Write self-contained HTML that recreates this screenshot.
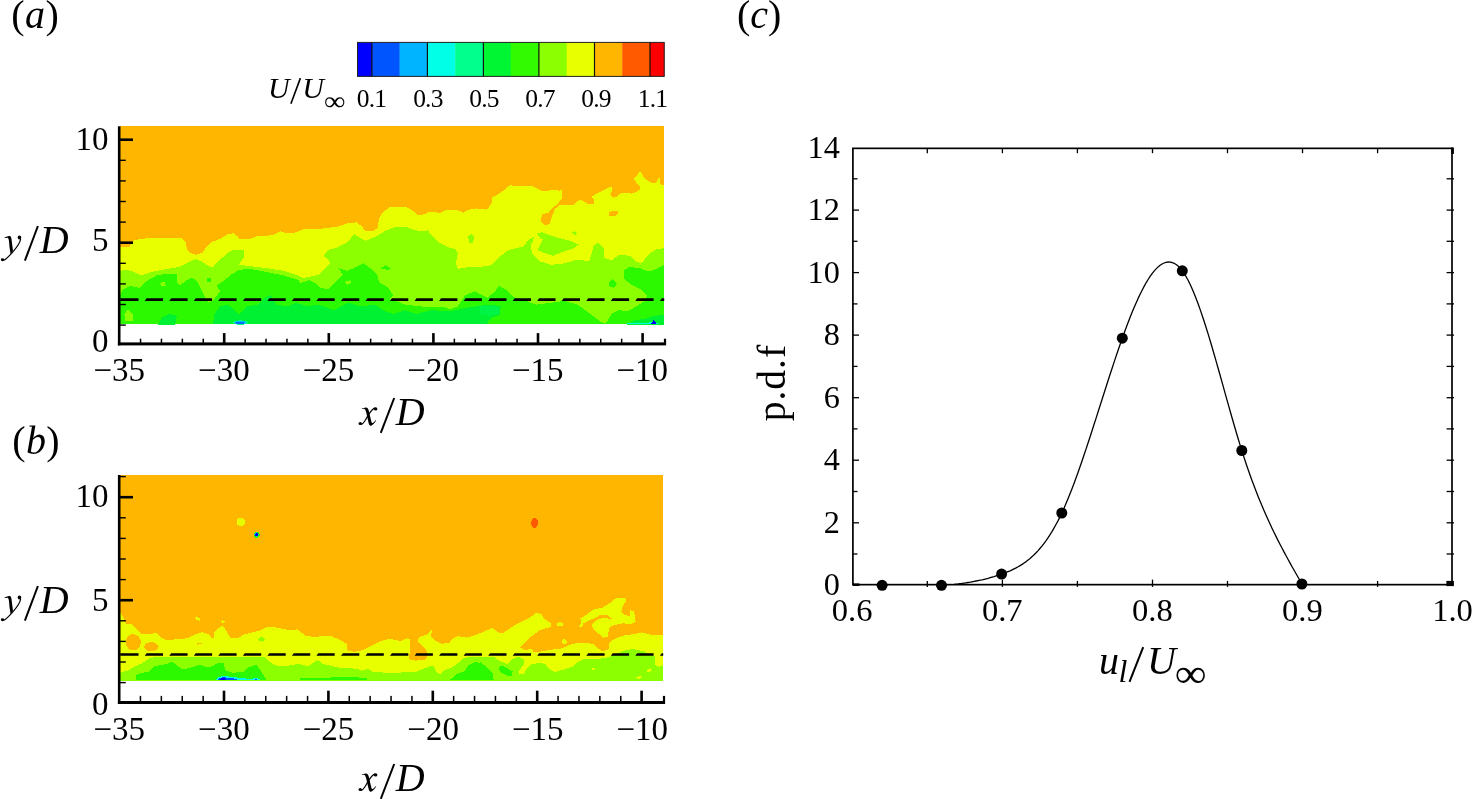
<!DOCTYPE html>
<html>
<head>
<meta charset="utf-8">
<title>Figure</title>
<style>
html,body{margin:0;padding:0;background:#fff;}
body{width:1472px;height:799px;overflow:hidden;font-family:"Liberation Serif",serif;}
svg{display:block;will-change:transform;}
</style>
</head>
<body>
<svg width="1472" height="799" viewBox="0 0 1472 799" font-family="'Liberation Serif', serif" fill="#000">
<rect x="0" y="0" width="1472" height="799" fill="#fff"/>
<g shape-rendering="crispEdges">
<rect x="120.0" y="126.3" width="544.2" height="197.2" fill="#FFB600"/>
<path d="M120.0 247.3 L129.1 247.3 L132.8 240.7 L141.3 238.8 L152.6 237.9 L167.6 237.5 L180.7 237.5 L185.4 241.7 L187.3 250.1 L190.1 252.9 L195.8 254.8 L202.3 252.9 L206.1 247.3 L210.8 242.6 L220.2 238.8 L227.7 234.2 L233.3 233.2 L237.1 236.0 L239.9 239.4 L248.3 239.4 L257.7 236.0 L265.2 236.0 L272.7 235.1 L280.3 231.3 L285.9 233.2 L293.4 233.2 L302.8 229.5 L318.8 229.1 L337.6 226.6 L346.9 223.5 L356.3 222.3 L362.0 226.6 L365.7 231.3 L373.2 231.3 L377.9 227.6 L378.9 219.1 L382.6 212.6 L390.1 206.9 L405.2 206.5 L412.7 210.7 L418.3 215.4 L423.9 214.4 L429.6 211.6 L435.2 211.6 L439.0 213.5 L446.5 209.7 L455.9 209.7 L463.4 212.6 L469.0 209.7 L476.5 208.4 L485.9 209.7 L487.5 208.8 L491.3 204.1 L492.2 197.5 L500.7 192.8 L510.0 185.3 L517.6 186.3 L532.6 186.3 L542.0 191.0 L555.1 190.0 L561.7 191.0 L560.8 199.4 L557.9 204.1 L552.3 207.9 L548.5 212.6 L542.0 214.4 L540.5 221.0 L544.8 225.7 L549.5 223.8 L552.3 215.4 L555.1 208.8 L560.0 204.6 L574.0 204.6 L577.0 201.1 L581.0 199.6 L584.0 201.6 L587.5 203.6 L594.1 203.6 L594.1 200.1 L591.6 197.1 L595.1 194.6 L602.1 191.1 L607.1 188.6 L610.1 187.1 L612.6 187.6 L612.1 191.1 L610.1 195.1 L613.1 197.6 L616.1 197.1 L619.1 194.1 L623.1 192.6 L628.1 193.1 L632.1 193.6 L636.1 192.1 L639.6 189.6 L639.6 186.1 L636.1 182.1 L634.1 179.0 L637.1 175.0 L639.6 172.0 L642.1 173.0 L643.1 177.0 L647.1 180.1 L651.2 182.6 L656.2 182.6 L658.7 177.5 L659.7 178.0 L660.2 184.1 L664.2 185.6 L664.2 323.5 L120.0 323.5Z" fill="#E8FF00"/>
<path d="M609.1 212.1 L613.1 211.1 L618.1 211.1 L618.1 214.1 L614.6 216.1 L609.1 216.1Z" fill="#FFB600"/>
<path d="M560.0 190.1 L561.5 190.1 L561.5 199.1 L560.0 199.1Z" fill="#E8FF00"/>
<path d="M120.0 270.8 L126.3 269.8 L133.8 271.7 L141.3 275.5 L152.6 271.7 L167.6 268.9 L178.8 267.0 L190.1 261.4 L195.8 259.1 L201.4 261.4 L207.0 265.1 L212.7 267.4 L220.2 259.5 L227.7 252.9 L233.3 250.1 L243.6 250.1 L243.6 257.6 L238.9 264.8 L250.2 266.1 L265.2 268.0 L284.0 270.8 L295.3 274.5 L302.8 277.9 L307.5 277.3 L318.8 274.5 L324.4 268.9 L330.0 263.3 L328.2 259.5 L323.5 255.8 L328.2 250.1 L337.6 247.3 L346.9 242.6 L354.5 234.2 L360.1 237.9 L365.7 240.7 L375.1 237.0 L384.5 231.3 L395.8 226.6 L405.2 226.6 L412.7 229.5 L420.2 231.3 L427.7 230.4 L433.3 237.0 L439.0 242.6 L448.4 247.3 L455.9 249.2 L457.7 253.9 L455.9 263.3 L457.7 268.9 L469.0 267.0 L479.9 267.0 L491.3 265.1 L498.8 257.6 L508.2 250.1 L523.2 246.4 L528.8 239.8 L534.5 237.0 L530.7 246.4 L532.6 253.9 L540.1 261.4 L551.4 264.8 L564.5 263.3 L577.7 259.5 L588.9 261.4 L591.7 253.9 L593.6 245.4 L598.3 242.6 L603.9 248.2 L603.9 257.6 L611.5 260.4 L619.0 254.8 L630.2 255.8 L635.9 261.4 L641.5 263.3 L649.0 253.9 L656.5 249.2 L664.2 248.2 L664.2 323.5 L120.0 323.5Z" fill="#8CFF00"/>
<path d="M537.3 233.2 L542.0 232.3 L555.1 237.0 L570.1 240.7 L578.6 244.5 L573.9 248.2 L562.6 252.0 L553.2 255.8 L543.8 252.9 L537.3 250.1 L540.1 244.5 L542.9 239.8 L538.2 236.0Z" fill="#8CFF00"/>
<path d="M572.0 232.3 L574.8 231.0 L577.3 233.6 L574.8 235.5Z" fill="#8CFF00"/>
<path d="M468.1 236.0 L471.8 234.2 L474.6 237.0 L472.8 242.6 L469.0 243.5Z" fill="#8CFF00"/>
<path d="M120.0 295.2 L122.5 289.6 L130.0 285.8 L139.4 287.7 L145.0 282.0 L156.3 275.5 L167.6 273.6 L177.0 274.5 L177.0 282.0 L179.8 285.8 L186.4 280.2 L192.0 277.3 L197.6 282.0 L201.4 289.6 L205.1 297.1 L208.9 302.7 L212.7 300.8 L220.2 291.4 L216.4 285.8 L222.0 282.0 L231.4 274.5 L238.9 269.8 L250.2 268.9 L265.2 271.7 L284.0 275.5 L299.0 280.2 L300.0 283.0 L309.4 280.2 L315.0 283.0 L320.7 287.7 L328.2 289.6 L333.8 283.9 L343.2 274.5 L337.6 268.0 L346.9 270.8 L356.3 267.0 L363.8 263.3 L371.4 268.9 L377.0 274.5 L378.9 282.0 L388.3 287.7 L393.0 295.2 L390.1 298.9 L405.2 304.6 L422.1 306.5 L442.7 306.5 L450.2 309.3 L457.7 306.5 L465.3 295.2 L474.6 291.4 L482.2 295.2 L480.0 294.2 L487.5 298.0 L495.0 291.4 L498.8 285.8 L506.3 289.6 L513.8 297.1 L523.2 299.9 L536.3 304.6 L551.4 302.7 L564.5 300.8 L577.7 304.6 L585.2 310.2 L592.7 315.8 L600.2 321.5 L605.8 323.4 L611.5 314.0 L619.0 310.2 L628.4 311.2 L635.9 306.5 L645.3 300.8 L647.1 295.2 L641.5 289.6 L630.2 283.9 L623.7 278.3 L623.7 270.8 L628.4 267.0 L639.6 268.0 L649.0 271.7 L656.5 268.9 L664.2 265.1 L664.2 323.5 L120.0 323.5Z" fill="#2CF800"/>
<path d="M124.4 314.0 L128.1 309.3 L132.8 314.0 L132.8 320.5 L125.3 320.5Z" fill="#8CFF00"/>
<path d="M160.1 283.0 L164.8 282.0 L165.7 285.8 L161.0 285.8Z" fill="#8CFF00"/>
<path d="M207.0 277.9 L210.8 277.9 L211.2 281.7 L207.0 281.7Z" fill="#2CF800"/>
<path d="M380.8 268.9 L385.4 265.1 L391.1 268.9 L388.3 269.8Z" fill="#2CF800"/>
<path d="M608.6 283.0 L612.4 279.2 L617.1 283.0 L614.3 287.7 L609.6 286.7Z" fill="#2CF800"/>
<path d="M345.1 282.0 L349.8 280.2 L351.6 283.0 L346.9 284.9Z" fill="#8CFF00"/>
<path d="M158.2 325.0 L161.9 317.7 L169.5 314.0 L177.0 315.8 L175.1 325.0Z" fill="#00F032"/>
<path d="M212.7 325.0 L214.5 314.0 L220.2 306.5 L227.7 304.6 L235.2 310.2 L238.9 314.9 L246.5 306.5 L257.7 304.6 L265.2 297.1 L270.9 295.2 L276.5 304.6 L287.8 306.5 L295.3 302.7 L302.8 304.6 L307.5 306.5 L318.8 304.6 L333.8 310.2 L341.3 306.5 L348.8 302.7 L360.1 306.5 L375.1 304.6 L382.6 310.2 L393.9 314.0 L405.2 310.2 L416.4 314.0 L431.5 310.2 L450.2 311.2 L469.0 307.4 L487.8 304.6 L491.3 304.6 L500.7 306.5 L499.7 314.9 L491.3 317.7 L485.6 325.0 L485.6 323.5 L212.7 323.5Z" fill="#00F032"/>
<path d="M626.5 325.0 L634.0 320.5 L645.3 318.7 L654.6 315.8 L664.0 314.9 L664.0 325.0Z" fill="#00F032"/>
<path d="M480.0 306.5 L489.4 305.5 L498.8 307.4 L498.8 314.0 L489.4 315.8 L480.0 314.0Z" fill="#00F448"/>
<ellipse cx="240.3" cy="322.6" rx="7.5" ry="2.2" fill="#00FF8C"/>
<ellipse cx="240.3" cy="322.6" rx="6" ry="1.8" fill="#00B4FF"/>
<ellipse cx="240.0" cy="322.9" rx="4" ry="1.2" fill="#0070FF"/>
<path d="M627.0 323.5 L651.0 322.4 L658.0 323.5Z" fill="#00FFE6"/>
<path d="M651.4 323.5 L653.8 319.6 L656.4 323.5Z" fill="#0000FF"/>
<rect x="120.0" y="475.0" width="543.2" height="205.6" fill="#FFB600"/>
<path d="M120.0 611.7 L123.2 617.2 L125.9 624.0 L132.7 624.6 L136.7 629.4 L142.2 634.2 L150.3 634.2 L155.8 632.8 L161.2 637.6 L165.3 639.6 L173.4 639.6 L188.4 638.2 L193.8 634.8 L202.0 632.1 L210.1 634.8 L211.5 638.2 L213.5 638.2 L214.2 632.1 L222.3 625.3 L226.4 630.8 L230.5 638.2 L238.6 638.2 L242.7 634.8 L250.9 632.8 L259.0 630.8 L265.8 627.4 L275.3 627.4 L284.8 629.4 L291.6 630.1 L297.1 629.4 L305.4 635.5 L313.6 636.9 L323.1 636.2 L331.2 636.2 L340.8 640.3 L346.9 644.3 L347.6 650.5 L354.3 651.8 L363.9 649.8 L373.4 645.0 L381.5 641.0 L389.7 638.9 L400.5 641.0 L407.3 638.2 L410.1 639.6 L410.1 649.8 L408.7 659.3 L415.5 660.7 L426.4 659.3 L427.0 651.1 L422.3 645.7 L417.5 641.0 L419.6 636.9 L427.7 634.2 L432.5 629.4 L430.4 636.2 L434.5 640.3 L441.3 643.7 L449.5 643.0 L452.2 638.9 L457.6 636.2 L467.1 637.6 L476.6 634.8 L485.4 630.8 L492.2 628.0 L497.7 632.1 L502.4 633.5 L511.2 627.4 L520.8 621.9 L530.3 617.2 L535.7 613.1 L541.1 613.8 L543.9 618.5 L550.7 623.3 L551.3 626.7 L539.8 630.1 L531.6 636.2 L524.8 642.3 L520.1 647.7 L524.8 649.8 L531.6 649.1 L534.3 652.5 L539.8 651.8 L550.7 649.8 L561.5 648.4 L572.4 643.7 L583.3 643.0 L592.8 643.7 L596.8 647.7 L602.3 651.1 L608.4 649.8 L609.1 643.0 L614.5 638.9 L624.0 635.5 L633.5 634.2 L641.7 632.4 L651.2 634.8 L663.2 635.5 L663.2 680.6 L120.0 680.6Z" fill="#E8FF00"/>
<path d="M580.5 618.5 L588.7 613.1 L592.8 609.7 L602.3 607.7 L610.4 602.9 L615.9 598.2 L624.0 597.5 L626.5 600.2 L622.7 606.3 L621.3 611.7 L624.0 615.1 L629.5 615.8 L630.5 610.4 L634.2 611.1 L634.9 617.2 L635.6 621.9 L630.8 624.0 L622.7 623.3 L613.2 625.3 L609.1 628.0 L607.7 636.9 L603.6 637.6 L598.2 633.5 L592.8 628.7 L592.1 624.6 L595.5 620.6 L602.3 617.9 L607.7 618.5 L611.8 618.5 L606.4 614.5 L600.9 614.5 L595.5 617.9 L588.7 620.6 L583.3 623.3 L581.9 627.4 L579.2 626.7 L581.2 622.6Z" fill="#E8FF00"/>
<path d="M556.8 623.3 L560.2 622.3 L563.6 624.0 L562.9 626.0 L557.4 626.0Z" fill="#E8FF00"/>
<path d="M562.2 639.6 L564.9 638.9 L567.0 642.3 L564.9 644.3 L562.6 643.7Z" fill="#E8FF00"/>
<path d="M195.2 617.2 L197.2 616.9 L200.6 619.2 L199.9 620.6 L196.5 619.9Z" fill="#E8FF00"/>
<path d="M221.0 621.2 L223.0 620.2 L225.1 621.5 L224.4 622.6 L221.7 622.6Z" fill="#E8FF00"/>
<ellipse cx="133.3" cy="642.3" rx="7.6" ry="8.2" fill="#FFB600"/>
<ellipse cx="151.4" cy="646.8" rx="7.2" ry="4.6" fill="#FFB600"/>
<path d="M196.5 643.3 L202.0 643.0 L202.0 644.3 L196.5 644.6Z" fill="#FFB600"/>
<path d="M120.0 672.9 L128.6 670.2 L135.4 666.1 L142.2 663.4 L150.3 657.9 L158.5 656.6 L210.1 656.6 L264.5 657.3 L269.9 662.0 L275.3 665.4 L284.8 666.1 L298.4 664.0 L308.2 666.1 L317.7 660.0 L323.1 664.0 L338.0 667.4 L357.1 668.8 L361.1 670.8 L367.9 668.8 L373.4 672.2 L395.1 672.9 L416.8 671.5 L430.4 666.1 L433.8 666.1 L435.9 671.5 L439.9 674.2 L444.0 670.2 L452.2 667.4 L457.6 663.4 L463.0 658.6 L471.2 656.6 L476.6 656.6 L480.0 656.6 L493.6 656.6 L497.7 660.0 L507.2 664.0 L512.6 659.3 L518.0 656.6 L523.5 659.3 L523.5 664.7 L519.4 670.2 L519.4 673.6 L523.5 674.2 L526.9 668.8 L530.3 664.7 L539.8 662.7 L545.2 664.0 L549.3 668.8 L554.7 672.2 L561.5 670.2 L572.4 666.8 L577.8 662.0 L583.3 659.3 L596.8 659.3 L607.7 657.3 L615.9 653.9 L626.7 649.8 L633.5 649.1 L643.0 651.1 L655.3 656.6 L655.3 664.7 L658.0 666.8 L663.2 666.1 L663.2 680.6 L120.0 680.6Z" fill="#8CFF00"/>
<path d="M258.3 638.9 L261.1 636.2 L265.1 639.6 L263.1 641.6 L259.0 641.0Z" fill="#8CFF00"/>
<path d="M646.4 670.2 L650.5 668.1 L651.9 670.8 L647.8 672.6Z" fill="#E8FF00"/>
<path d="M635.6 677.6 L639.6 675.6 L641.7 677.6 L638.3 679.4Z" fill="#E8FF00"/>
<path d="M592.1 668.5 L594.8 668.1 L594.8 669.9 L592.1 669.9Z" fill="#E8FF00"/>
<path d="M135.4 680.4 L136.7 674.2 L149.0 671.5 L154.4 666.1 L166.6 664.0 L172.1 661.3 L177.5 666.1 L182.9 669.5 L191.1 667.4 L199.2 664.7 L207.4 667.4 L212.8 666.1 L216.9 663.4 L223.7 663.4 L225.1 670.2 L233.2 672.9 L244.1 671.5 L248.2 667.4 L256.3 664.7 L260.4 670.2 L264.5 677.0 L267.2 680.4Z" fill="#2CF800"/>
<path d="M300.0 678.3 L327.2 677.6 L354.3 677.0 L366.6 678.3 L366.6 680.4 L300.0 680.4Z" fill="#2CF800"/>
<path d="M449.5 680.4 L456.2 674.2 L464.4 671.5 L468.5 665.4 L475.3 662.0 L482.1 663.4 L487.5 668.8 L492.9 672.9 L492.9 678.3 L495.7 680.4Z" fill="#2CF800"/>
<path d="M480.0 662.0 L485.4 666.1 L490.9 671.5 L493.6 677.0 L492.9 680.4 L480.0 680.4Z" fill="#2CF800"/>
<path d="M498.3 668.1 L501.7 665.4 L507.2 668.1 L512.6 671.5 L511.9 676.3 L507.2 675.6 L500.4 672.2Z" fill="#2CF800"/>
<path d="M215.5 680.4 L218.3 677.0 L223.7 675.9 L237.3 677.6 L250.9 679.0 L256.3 677.6 L261.1 680.4Z" fill="#00FFE6"/>
<path d="M217.6 680.4 L218.9 678.0 L223.7 677.2 L234.6 678.6 L239.3 680.4Z" fill="#0055FF"/>
<path d="M220.3 679.9 L221.0 678.3 L225.1 678.3 L225.7 679.9Z" fill="#0000FF"/>
<path d="M253.6 680.4 L255.6 678.6 L258.3 680.4Z" fill="#0055FF"/>
<circle cx="240.8" cy="521.9" r="4.3" fill="#E8FF00"/>
<circle cx="256.6" cy="534.9" r="3" fill="#2CF800"/>
<circle cx="256.6" cy="534.5" r="2.2" fill="#00B4FF"/>
<circle cx="256.6" cy="534.7" r="1.5" fill="#0000FF"/>
<ellipse cx="534.6" cy="523" rx="3.5" ry="4.8" fill="#FF5A00"/>
</g>
<rect x="117.9" y="126.3" width="2.6" height="219.1" fill="#000"/>
<rect x="117.9" y="342.4" width="548.2" height="3.0" fill="#000"/>
<rect x="120" y="324.4" width="5.8" height="1.4" fill="#000"/>
<rect x="120" y="303.8" width="5.8" height="1.4" fill="#000"/>
<rect x="120" y="283.2" width="5.8" height="1.4" fill="#000"/>
<rect x="120" y="262.6" width="5.8" height="1.4" fill="#000"/>
<rect x="120" y="241.4" width="13" height="2.6" fill="#000"/>
<rect x="120" y="221.4" width="5.8" height="1.4" fill="#000"/>
<rect x="120" y="200.8" width="5.8" height="1.4" fill="#000"/>
<rect x="120" y="180.2" width="5.8" height="1.4" fill="#000"/>
<rect x="120" y="159.6" width="5.8" height="1.4" fill="#000"/>
<rect x="120" y="138.4" width="13" height="2.6" fill="#000"/>
<rect x="139.8" y="338.7" width="1.5" height="4.2" fill="#000"/>
<rect x="160.7" y="338.7" width="1.5" height="4.2" fill="#000"/>
<rect x="181.6" y="338.7" width="1.5" height="4.2" fill="#000"/>
<rect x="202.5" y="338.7" width="1.5" height="4.2" fill="#000"/>
<rect x="222.9" y="333.1" width="2.6" height="9.8" fill="#000"/>
<rect x="244.4" y="338.7" width="1.5" height="4.2" fill="#000"/>
<rect x="265.3" y="338.7" width="1.5" height="4.2" fill="#000"/>
<rect x="286.2" y="338.7" width="1.5" height="4.2" fill="#000"/>
<rect x="307.1" y="338.7" width="1.5" height="4.2" fill="#000"/>
<rect x="327.5" y="333.1" width="2.6" height="9.8" fill="#000"/>
<rect x="349.0" y="338.7" width="1.5" height="4.2" fill="#000"/>
<rect x="369.9" y="338.7" width="1.5" height="4.2" fill="#000"/>
<rect x="390.8" y="338.7" width="1.5" height="4.2" fill="#000"/>
<rect x="411.7" y="338.7" width="1.5" height="4.2" fill="#000"/>
<rect x="432.1" y="333.1" width="2.6" height="9.8" fill="#000"/>
<rect x="453.6" y="338.7" width="1.5" height="4.2" fill="#000"/>
<rect x="474.5" y="338.7" width="1.5" height="4.2" fill="#000"/>
<rect x="495.4" y="338.7" width="1.5" height="4.2" fill="#000"/>
<rect x="516.3" y="338.7" width="1.5" height="4.2" fill="#000"/>
<rect x="536.7" y="333.1" width="2.6" height="9.8" fill="#000"/>
<rect x="558.2" y="338.7" width="1.5" height="4.2" fill="#000"/>
<rect x="579.1" y="338.7" width="1.5" height="4.2" fill="#000"/>
<rect x="600.0" y="338.7" width="1.5" height="4.2" fill="#000"/>
<rect x="620.9" y="338.7" width="1.5" height="4.2" fill="#000"/>
<rect x="641.3" y="333.1" width="2.6" height="9.8" fill="#000"/>
<rect x="663.9" y="338.7" width="2.2" height="4.2" fill="#000"/>
<path d="M120.2 300.9L120.2 298.3L138.5 298.3L138.5 300.9ZM144.7 300.9L146.6 298.3L163.0 298.3L163.0 300.9ZM169.3 300.9L171.2 298.3L187.6 298.3L187.6 300.9ZM193.8 300.9L195.7 298.3L212.1 298.3L212.1 300.9ZM218.3 300.9L220.2 298.3L236.6 298.3L236.6 300.9ZM242.9 300.9L244.8 298.3L261.2 298.3L261.2 300.9ZM267.4 300.9L269.3 298.3L285.7 298.3L285.7 300.9ZM291.9 300.9L293.8 298.3L310.2 298.3L310.2 300.9ZM316.4 300.9L318.3 298.3L334.7 298.3L334.7 300.9ZM341.0 300.9L342.9 298.3L359.3 298.3L359.3 300.9ZM365.5 300.9L367.4 298.3L383.8 298.3L383.8 300.9ZM390.0 300.9L391.9 298.3L408.3 298.3L408.3 300.9ZM414.6 300.9L416.5 298.3L432.9 298.3L432.9 300.9ZM439.1 300.9L441.0 298.3L457.4 298.3L457.4 300.9ZM463.6 300.9L465.5 298.3L481.9 298.3L481.9 300.9ZM488.2 300.9L490.1 298.3L506.5 298.3L506.5 300.9ZM512.7 300.9L514.6 298.3L531.0 298.3L531.0 300.9ZM537.2 300.9L539.1 298.3L555.5 298.3L555.5 300.9ZM561.7 300.9L563.6 298.3L580.0 298.3L580.0 300.9ZM586.3 300.9L588.2 298.3L604.6 298.3L604.6 300.9ZM610.8 300.9L612.7 298.3L629.1 298.3L629.1 300.9ZM635.3 300.9L637.2 298.3L653.6 298.3L653.6 300.9ZM659.9 300.9L661.8 298.3L664.2 298.3L664.2 300.9Z" fill="#000"/>
<rect x="117.9" y="475.0" width="2.6" height="229.0" fill="#000"/>
<rect x="117.9" y="701.0" width="547.2" height="3.0" fill="#000"/>
<rect x="120" y="681.9" width="5.8" height="1.4" fill="#000"/>
<rect x="120" y="661.3" width="5.8" height="1.4" fill="#000"/>
<rect x="120" y="640.7" width="5.8" height="1.4" fill="#000"/>
<rect x="120" y="620.1" width="5.8" height="1.4" fill="#000"/>
<rect x="120" y="598.9" width="13" height="2.6" fill="#000"/>
<rect x="120" y="578.9" width="5.8" height="1.4" fill="#000"/>
<rect x="120" y="558.3" width="5.8" height="1.4" fill="#000"/>
<rect x="120" y="537.7" width="5.8" height="1.4" fill="#000"/>
<rect x="120" y="517.1" width="5.8" height="1.4" fill="#000"/>
<rect x="120" y="495.9" width="13" height="2.6" fill="#000"/>
<rect x="120" y="475.9" width="5.8" height="1.4" fill="#000"/>
<rect x="139.7" y="695.9" width="1.5" height="5.6" fill="#000"/>
<rect x="160.6" y="695.9" width="1.5" height="5.6" fill="#000"/>
<rect x="181.5" y="695.9" width="1.5" height="5.6" fill="#000"/>
<rect x="202.4" y="695.9" width="1.5" height="5.6" fill="#000"/>
<rect x="222.7" y="690.7" width="2.6" height="10.8" fill="#000"/>
<rect x="244.1" y="695.9" width="1.5" height="5.6" fill="#000"/>
<rect x="265.0" y="695.9" width="1.5" height="5.6" fill="#000"/>
<rect x="285.9" y="695.9" width="1.5" height="5.6" fill="#000"/>
<rect x="306.8" y="695.9" width="1.5" height="5.6" fill="#000"/>
<rect x="327.1" y="690.7" width="2.6" height="10.8" fill="#000"/>
<rect x="348.5" y="695.9" width="1.5" height="5.6" fill="#000"/>
<rect x="369.4" y="695.9" width="1.5" height="5.6" fill="#000"/>
<rect x="390.3" y="695.9" width="1.5" height="5.6" fill="#000"/>
<rect x="411.2" y="695.9" width="1.5" height="5.6" fill="#000"/>
<rect x="431.5" y="690.7" width="2.6" height="10.8" fill="#000"/>
<rect x="452.9" y="695.9" width="1.5" height="5.6" fill="#000"/>
<rect x="473.8" y="695.9" width="1.5" height="5.6" fill="#000"/>
<rect x="494.7" y="695.9" width="1.5" height="5.6" fill="#000"/>
<rect x="515.6" y="695.9" width="1.5" height="5.6" fill="#000"/>
<rect x="535.9" y="690.7" width="2.6" height="10.8" fill="#000"/>
<rect x="557.3" y="695.9" width="1.5" height="5.6" fill="#000"/>
<rect x="578.2" y="695.9" width="1.5" height="5.6" fill="#000"/>
<rect x="599.1" y="695.9" width="1.5" height="5.6" fill="#000"/>
<rect x="620.0" y="695.9" width="1.5" height="5.6" fill="#000"/>
<rect x="640.3" y="690.7" width="2.6" height="10.8" fill="#000"/>
<rect x="662.9" y="695.9" width="2.2" height="5.6" fill="#000"/>
<path d="M120.2 655.8L120.2 653.2L138.5 653.2L138.5 655.8ZM144.7 655.8L146.6 653.2L163.0 653.2L163.0 655.8ZM169.3 655.8L171.2 653.2L187.6 653.2L187.6 655.8ZM193.8 655.8L195.7 653.2L212.1 653.2L212.1 655.8ZM218.3 655.8L220.2 653.2L236.6 653.2L236.6 655.8ZM242.9 655.8L244.8 653.2L261.2 653.2L261.2 655.8ZM267.4 655.8L269.3 653.2L285.7 653.2L285.7 655.8ZM291.9 655.8L293.8 653.2L310.2 653.2L310.2 655.8ZM316.4 655.8L318.3 653.2L334.7 653.2L334.7 655.8ZM341.0 655.8L342.9 653.2L359.3 653.2L359.3 655.8ZM365.5 655.8L367.4 653.2L383.8 653.2L383.8 655.8ZM390.0 655.8L391.9 653.2L408.3 653.2L408.3 655.8ZM414.6 655.8L416.5 653.2L432.9 653.2L432.9 655.8ZM439.1 655.8L441.0 653.2L457.4 653.2L457.4 655.8ZM463.6 655.8L465.5 653.2L481.9 653.2L481.9 655.8ZM488.2 655.8L490.1 653.2L506.5 653.2L506.5 655.8ZM512.7 655.8L514.6 653.2L531.0 653.2L531.0 655.8ZM537.2 655.8L539.1 653.2L555.5 653.2L555.5 655.8ZM561.7 655.8L563.6 653.2L580.0 653.2L580.0 655.8ZM586.3 655.8L588.2 653.2L604.6 653.2L604.6 655.8ZM610.8 655.8L612.7 653.2L629.1 653.2L629.1 655.8ZM635.3 655.8L637.2 653.2L653.6 653.2L653.6 655.8ZM659.9 655.8L661.8 653.2L663.2 653.2L663.2 655.8Z" fill="#000"/>
<rect x="357.5" y="42.4" width="14.7" height="34" fill="#0000FF"/>
<rect x="371.9" y="42.4" width="28.0" height="34" fill="#0055FF"/>
<rect x="399.6" y="42.4" width="28.1" height="34" fill="#00B4FF"/>
<rect x="427.4" y="42.4" width="28.1" height="34" fill="#00FFE6"/>
<rect x="455.2" y="42.4" width="28.5" height="34" fill="#00FF8C"/>
<rect x="483.4" y="42.4" width="27.7" height="34" fill="#00F532"/>
<rect x="510.8" y="42.4" width="28.4" height="34" fill="#32FA00"/>
<rect x="538.9" y="42.4" width="28.1" height="34" fill="#8CFF00"/>
<rect x="566.7" y="42.4" width="28.1" height="34" fill="#E8FF00"/>
<rect x="594.5" y="42.4" width="28.0" height="34" fill="#FFB600"/>
<rect x="622.2" y="42.4" width="28.1" height="34" fill="#FF5A00"/>
<rect x="650.0" y="42.4" width="14.5" height="34" fill="#FF0000"/>
<rect x="357.5" y="42.4" width="306.7" height="34" fill="none" stroke="#222" stroke-width="1"/>
<line x1="371.9" y1="42.4" x2="371.9" y2="76.4" stroke="#111" stroke-width="1.2"/>
<line x1="427.4" y1="42.4" x2="427.4" y2="76.4" stroke="#111" stroke-width="1.2"/>
<line x1="483.4" y1="42.4" x2="483.4" y2="76.4" stroke="#111" stroke-width="1.2"/>
<line x1="538.9" y1="42.4" x2="538.9" y2="76.4" stroke="#111" stroke-width="1.2"/>
<line x1="594.5" y1="42.4" x2="594.5" y2="76.4" stroke="#111" stroke-width="1.2"/>
<line x1="650.0" y1="42.4" x2="650.0" y2="76.4" stroke="#111" stroke-width="1.2"/>
<text x="371.6" y="107.4" font-size="25.5" text-anchor="middle" letter-spacing="-0.8">0.1</text>
<text x="427.9" y="107.4" font-size="25.5" text-anchor="middle" letter-spacing="-0.8">0.3</text>
<text x="484.1" y="107.4" font-size="25.5" text-anchor="middle" letter-spacing="-0.8">0.5</text>
<text x="540.0" y="107.4" font-size="25.5" text-anchor="middle" letter-spacing="-0.8">0.7</text>
<text x="596.1" y="107.4" font-size="25.5" text-anchor="middle" letter-spacing="-0.8">0.9</text>
<text x="652.6" y="107.4" font-size="25.5" text-anchor="middle" letter-spacing="-0.8">1.1</text>
<text x="268.1" y="98.3" font-size="30" text-anchor="start" font-style="italic">U</text>
<text x="302.3" y="98.3" font-size="30" text-anchor="start" font-style="italic">U</text>
<line x1="300.4" y1="78.1" x2="290.9" y2="103.8" stroke="#000" stroke-width="1.6"/>
<text transform="translate(324.0 110.2) scale(1.04 0.92)" font-size="29">∞</text>
<text x="11.2" y="28.3" font-size="40" letter-spacing="0.5">(<tspan font-style="italic">a</tspan>)</text>
<text x="12.2" y="454.3" font-size="40" letter-spacing="0.4">(<tspan font-style="italic">b</tspan>)</text>
<text x="737" y="28.2" font-size="40">(<tspan font-style="italic">c</tspan>)</text>
<text x="108.6" y="149.8" font-size="33" text-anchor="end">10</text>
<text x="108.6" y="251.3" font-size="33" text-anchor="end">5</text>
<text x="108.6" y="352.0" font-size="33" text-anchor="end">0</text>
<text x="108.6" y="507.0" font-size="33" text-anchor="end">10</text>
<text x="108.6" y="611.2" font-size="33" text-anchor="end">5</text>
<text x="108.6" y="714.7" font-size="33" text-anchor="end">0</text>
<text x="119.3" y="381.0" font-size="33" text-anchor="middle">−35</text>
<text x="119.3" y="739.5" font-size="33" text-anchor="middle">−35</text>
<text x="223.9" y="381.0" font-size="33" text-anchor="middle">−30</text>
<text x="223.9" y="739.5" font-size="33" text-anchor="middle">−30</text>
<text x="328.5" y="381.0" font-size="33" text-anchor="middle">−25</text>
<text x="328.5" y="739.5" font-size="33" text-anchor="middle">−25</text>
<text x="433.1" y="381.0" font-size="33" text-anchor="middle">−20</text>
<text x="433.1" y="739.5" font-size="33" text-anchor="middle">−20</text>
<text x="537.7" y="381.0" font-size="33" text-anchor="middle">−15</text>
<text x="537.7" y="739.5" font-size="33" text-anchor="middle">−15</text>
<text x="642.3" y="381.0" font-size="33" text-anchor="middle">−10</text>
<text x="642.3" y="739.5" font-size="33" text-anchor="middle">−10</text>
<g transform="translate(0 230.00) scale(0.04506)"><path d="M103 162L200 133C235 125 248 150 254 195L288 462L236 548L214 400C204 290 200 190 172 172L108 178Z" fill="#000"/><path d="M458 205C445 270 380 380 290 480C220 560 150 640 85 672" fill="none" stroke="#000" stroke-width="26" stroke-linecap="round"/><ellipse cx="432" cy="166" rx="39" ry="43" fill="#000"/><ellipse cx="56" cy="661" rx="37" ry="33" fill="#000"/></g>
<text x="39.8" y="252.6" font-size="40" text-anchor="start" font-style="italic">D</text>
<line x1="37.9" y1="226.0" x2="24.9" y2="260.7" stroke="#000" stroke-width="2"/>
<g transform="translate(0 590.00) scale(0.04506)"><path d="M103 162L200 133C235 125 248 150 254 195L288 462L236 548L214 400C204 290 200 190 172 172L108 178Z" fill="#000"/><path d="M458 205C445 270 380 380 290 480C220 560 150 640 85 672" fill="none" stroke="#000" stroke-width="26" stroke-linecap="round"/><ellipse cx="432" cy="166" rx="39" ry="43" fill="#000"/><ellipse cx="56" cy="661" rx="37" ry="33" fill="#000"/></g>
<text x="39.8" y="612.6" font-size="40" text-anchor="start" font-style="italic">D</text>
<line x1="37.9" y1="586.0" x2="24.9" y2="620.7" stroke="#000" stroke-width="2"/>
<g transform="translate(352 400.00) scale(0.04005)"><path d="M243 210L345 186C380 180 402 215 418 260L478 515C488 555 500 580 518 572C545 558 570 530 590 503L604 514C575 562 530 628 478 641C438 648 422 600 412 560L352 302C338 248 318 218 290 221L246 224Z" fill="#000"/><path d="M225 612C300 595 340 480 400 390C450 310 500 222 580 198" fill="none" stroke="#000" stroke-width="30"/><ellipse cx="205" cy="585" rx="42" ry="38" fill="#000"/><ellipse cx="590" cy="222" rx="44" ry="40" fill="#000"/></g>
<text x="395.7" y="424.9" font-size="40" text-anchor="start" font-style="italic">D</text>
<line x1="394.2" y1="398.0" x2="380.8" y2="432.8" stroke="#000" stroke-width="2"/>
<g transform="translate(352 766.00) scale(0.04005)"><path d="M243 210L345 186C380 180 402 215 418 260L478 515C488 555 500 580 518 572C545 558 570 530 590 503L604 514C575 562 530 628 478 641C438 648 422 600 412 560L352 302C338 248 318 218 290 221L246 224Z" fill="#000"/><path d="M225 612C300 595 340 480 400 390C450 310 500 222 580 198" fill="none" stroke="#000" stroke-width="30"/><ellipse cx="205" cy="585" rx="42" ry="38" fill="#000"/><ellipse cx="590" cy="222" rx="44" ry="40" fill="#000"/></g>
<text x="395.7" y="790.9" font-size="40" text-anchor="start" font-style="italic">D</text>
<line x1="394.2" y1="764.0" x2="380.8" y2="798.8" stroke="#000" stroke-width="2"/>
<rect x="852.90" y="148.35" width="599.10" height="436.30" fill="none" stroke="#000" stroke-width="1.7"/>
<line x1="852.9" y1="554.0" x2="857.5" y2="554.0" stroke="#000" stroke-width="1.3"/>
<line x1="1446.6" y1="554.0" x2="1454.0" y2="554.0" stroke="#000" stroke-width="1.3"/>
<line x1="852.9" y1="522.8" x2="859.0" y2="522.8" stroke="#000" stroke-width="1.3"/>
<line x1="1446.6" y1="522.8" x2="1454.0" y2="522.8" stroke="#000" stroke-width="1.3"/>
<line x1="852.9" y1="491.5" x2="857.5" y2="491.5" stroke="#000" stroke-width="1.3"/>
<line x1="1446.6" y1="491.5" x2="1454.0" y2="491.5" stroke="#000" stroke-width="1.3"/>
<line x1="852.9" y1="460.2" x2="859.0" y2="460.2" stroke="#000" stroke-width="1.3"/>
<line x1="1446.6" y1="460.2" x2="1454.0" y2="460.2" stroke="#000" stroke-width="1.3"/>
<line x1="852.9" y1="428.9" x2="857.5" y2="428.9" stroke="#000" stroke-width="1.3"/>
<line x1="1446.6" y1="428.9" x2="1454.0" y2="428.9" stroke="#000" stroke-width="1.3"/>
<line x1="852.9" y1="397.7" x2="859.0" y2="397.7" stroke="#000" stroke-width="1.3"/>
<line x1="1446.6" y1="397.7" x2="1454.0" y2="397.7" stroke="#000" stroke-width="1.3"/>
<line x1="852.9" y1="366.4" x2="857.5" y2="366.4" stroke="#000" stroke-width="1.3"/>
<line x1="1446.6" y1="366.4" x2="1454.0" y2="366.4" stroke="#000" stroke-width="1.3"/>
<line x1="852.9" y1="335.1" x2="859.0" y2="335.1" stroke="#000" stroke-width="1.3"/>
<line x1="1446.6" y1="335.1" x2="1454.0" y2="335.1" stroke="#000" stroke-width="1.3"/>
<line x1="852.9" y1="303.9" x2="857.5" y2="303.9" stroke="#000" stroke-width="1.3"/>
<line x1="1446.6" y1="303.9" x2="1454.0" y2="303.9" stroke="#000" stroke-width="1.3"/>
<line x1="852.9" y1="272.6" x2="859.0" y2="272.6" stroke="#000" stroke-width="1.3"/>
<line x1="1446.6" y1="272.6" x2="1454.0" y2="272.6" stroke="#000" stroke-width="1.3"/>
<line x1="852.9" y1="241.3" x2="857.5" y2="241.3" stroke="#000" stroke-width="1.3"/>
<line x1="1446.6" y1="241.3" x2="1454.0" y2="241.3" stroke="#000" stroke-width="1.3"/>
<line x1="852.9" y1="210.1" x2="859.0" y2="210.1" stroke="#000" stroke-width="1.3"/>
<line x1="1446.6" y1="210.1" x2="1454.0" y2="210.1" stroke="#000" stroke-width="1.3"/>
<line x1="852.9" y1="178.8" x2="857.5" y2="178.8" stroke="#000" stroke-width="1.3"/>
<line x1="1446.6" y1="178.8" x2="1454.0" y2="178.8" stroke="#000" stroke-width="1.3"/>
<line x1="927.3" y1="581.0" x2="927.3" y2="586.9" stroke="#000" stroke-width="1.3"/>
<line x1="927.3" y1="148.3" x2="927.3" y2="153.2" stroke="#000" stroke-width="1.3"/>
<line x1="1002.4" y1="579.6" x2="1002.4" y2="586.9" stroke="#000" stroke-width="1.3"/>
<line x1="1002.4" y1="148.3" x2="1002.4" y2="153.2" stroke="#000" stroke-width="1.3"/>
<line x1="1077.4" y1="581.0" x2="1077.4" y2="586.9" stroke="#000" stroke-width="1.3"/>
<line x1="1077.4" y1="148.3" x2="1077.4" y2="153.2" stroke="#000" stroke-width="1.3"/>
<line x1="1152.5" y1="579.6" x2="1152.5" y2="586.9" stroke="#000" stroke-width="1.3"/>
<line x1="1152.5" y1="148.3" x2="1152.5" y2="153.2" stroke="#000" stroke-width="1.3"/>
<line x1="1227.5" y1="581.0" x2="1227.5" y2="586.9" stroke="#000" stroke-width="1.3"/>
<line x1="1227.5" y1="148.3" x2="1227.5" y2="153.2" stroke="#000" stroke-width="1.3"/>
<line x1="1302.5" y1="579.6" x2="1302.5" y2="586.9" stroke="#000" stroke-width="1.3"/>
<line x1="1302.5" y1="148.3" x2="1302.5" y2="153.2" stroke="#000" stroke-width="1.3"/>
<line x1="1377.6" y1="581.0" x2="1377.6" y2="586.9" stroke="#000" stroke-width="1.3"/>
<line x1="1377.6" y1="148.3" x2="1377.6" y2="153.2" stroke="#000" stroke-width="1.3"/>
<rect x="852.9" y="583.4" width="6.5" height="2.6" fill="#000"/>
<rect x="1446.4" y="580.9" width="7.5" height="5.2" fill="#000"/>
<rect x="1451.1" y="147.5" width="2.8" height="6.5" fill="#000"/>
<text x="839.8" y="595.3" font-size="32.3" text-anchor="end">0</text>
<text x="839.8" y="532.8" font-size="32.3" text-anchor="end">2</text>
<text x="839.8" y="470.2" font-size="32.3" text-anchor="end">4</text>
<text x="839.8" y="407.7" font-size="32.3" text-anchor="end">6</text>
<text x="839.8" y="345.1" font-size="32.3" text-anchor="end">8</text>
<text x="839.8" y="282.6" font-size="32.3" text-anchor="end">10</text>
<text x="839.8" y="220.1" font-size="32.3" text-anchor="end">12</text>
<text x="839.8" y="157.5" font-size="32.3" text-anchor="end">14</text>
<text x="852.2" y="621.0" font-size="32.6" text-anchor="middle">0.6</text>
<text x="1002.3" y="621.0" font-size="32.6" text-anchor="middle">0.7</text>
<text x="1152.4" y="621.0" font-size="32.6" text-anchor="middle">0.8</text>
<text x="1302.4" y="621.0" font-size="32.6" text-anchor="middle">0.9</text>
<text x="1452.5" y="621.0" font-size="32.6" text-anchor="middle">1.0</text>
<path d="M954.1 584.3 L956.1 584.1 L958.1 583.9 L960.1 583.6 L962.1 583.4 L964.1 583.1 L966.1 582.8 L968.1 582.5 L970.1 582.2 L972.1 581.8 L974.1 581.4 L976.1 581.0 L978.1 580.6 L980.1 580.2 L982.1 579.8 L984.1 579.3 L986.1 578.8 L988.1 578.3 L990.1 577.7 L992.1 577.1 L994.1 576.6 L996.1 575.9 L998.1 575.3 L1000.1 574.6 L1002.1 573.9 L1004.1 573.2 L1006.1 572.4 L1008.1 571.6 L1010.1 570.8 L1012.1 569.9 L1014.1 568.9 L1016.1 567.9 L1018.1 566.8 L1020.1 565.6 L1022.1 564.4 L1024.1 563.0 L1026.1 561.6 L1028.1 560.0 L1030.1 558.4 L1032.1 556.6 L1034.1 554.7 L1036.1 552.7 L1038.1 550.6 L1040.1 548.3 L1042.1 545.9 L1044.1 543.3 L1046.1 540.6 L1048.1 537.7 L1050.1 534.6 L1052.1 531.4 L1054.1 527.9 L1056.1 524.3 L1058.1 520.6 L1060.1 516.6 L1062.1 512.4 L1064.1 508.0 L1066.1 503.3 L1068.1 498.6 L1070.1 493.6 L1072.1 488.5 L1074.1 483.2 L1076.1 477.8 L1078.1 472.2 L1080.1 466.5 L1082.1 460.7 L1084.1 454.8 L1086.1 448.9 L1088.1 442.8 L1090.1 436.7 L1092.1 430.5 L1094.1 424.3 L1096.1 418.1 L1098.1 411.8 L1100.1 405.5 L1102.1 399.2 L1104.1 393.0 L1106.1 386.7 L1108.1 380.5 L1110.1 374.3 L1112.1 368.2 L1114.1 362.1 L1116.1 356.1 L1118.1 350.2 L1120.1 344.5 L1122.1 338.8 L1124.1 333.2 L1126.1 327.8 L1128.1 322.5 L1130.1 317.3 L1132.1 312.3 L1134.1 307.5 L1136.1 302.9 L1138.1 298.4 L1140.1 294.2 L1142.1 290.2 L1144.1 286.4 L1146.1 282.8 L1148.1 279.5 L1150.1 276.4 L1152.1 273.6 L1154.1 271.1 L1156.1 268.9 L1158.1 266.9 L1160.1 265.3 L1162.1 264.0 L1164.1 263.0 L1166.1 262.3 L1168.1 262.0 L1170.1 262.1 L1172.1 262.5 L1174.1 263.3 L1176.1 264.5 L1178.1 266.1 L1180.1 268.1 L1182.1 270.5 L1184.1 273.4 L1186.1 276.7 L1188.1 280.3 L1190.1 284.3 L1192.1 288.7 L1194.1 293.4 L1196.1 298.5 L1198.1 303.8 L1200.1 309.4 L1202.1 315.2 L1204.1 321.2 L1206.1 327.5 L1208.1 333.9 L1210.1 340.5 L1212.1 347.3 L1214.1 354.2 L1216.1 361.1 L1218.1 368.2 L1220.1 375.3 L1222.1 382.4 L1224.1 389.6 L1226.1 396.8 L1228.1 403.9 L1230.1 411.0 L1232.1 418.0 L1234.1 425.0 L1236.1 431.8 L1238.1 438.5 L1240.1 445.1 L1242.1 451.4 L1244.1 457.6 L1246.1 463.7 L1248.1 469.5 L1250.1 475.2 L1252.1 480.7 L1254.1 486.1 L1256.1 491.3 L1258.1 496.4 L1260.1 501.3 L1262.1 506.1 L1264.1 510.8 L1266.1 515.3 L1268.1 519.8 L1270.1 524.1 L1272.1 528.4 L1274.1 532.5 L1276.1 536.6 L1278.1 540.6 L1280.1 544.5 L1282.1 548.3 L1284.1 552.1 L1286.1 555.8 L1288.1 559.5 L1290.1 563.1 L1292.1 566.7 L1294.1 570.3 L1296.1 573.8 L1298.1 577.3 L1300.1 580.8 L1301.9 584.0" fill="none" stroke="#000" stroke-width="1.3" stroke-linejoin="round"/>
<circle cx="882.1" cy="585.3" r="5.5" fill="#000"/>
<circle cx="941.5" cy="585.3" r="5.5" fill="#000"/>
<circle cx="1001.6" cy="574.1" r="5.5" fill="#000"/>
<circle cx="1061.8" cy="513.0" r="5.5" fill="#000"/>
<circle cx="1122.3" cy="338.2" r="5.5" fill="#000"/>
<circle cx="1182.3" cy="270.8" r="5.5" fill="#000"/>
<circle cx="1241.8" cy="450.5" r="5.5" fill="#000"/>
<circle cx="1301.9" cy="584.0" r="5.5" fill="#000"/>
<text transform="translate(785.1 421.3) rotate(-90)" font-size="39.5" letter-spacing="1">p.d.f</text>
<text x="1099.0" y="673.9" font-size="40" text-anchor="start" font-style="italic">u</text>
<text x="1118.5" y="682.0" font-size="32" text-anchor="start" font-style="italic">l</text>
<line x1="1143.2" y1="647.1" x2="1129.5" y2="681.8" stroke="#000" stroke-width="2"/>
<text x="1147.1" y="674.0" font-size="40" text-anchor="start" font-style="italic">U</text>
<text transform="translate(1174.8 687.0) scale(1.04 0.94)" font-size="43">∞</text>
</svg>
</body>
</html>
